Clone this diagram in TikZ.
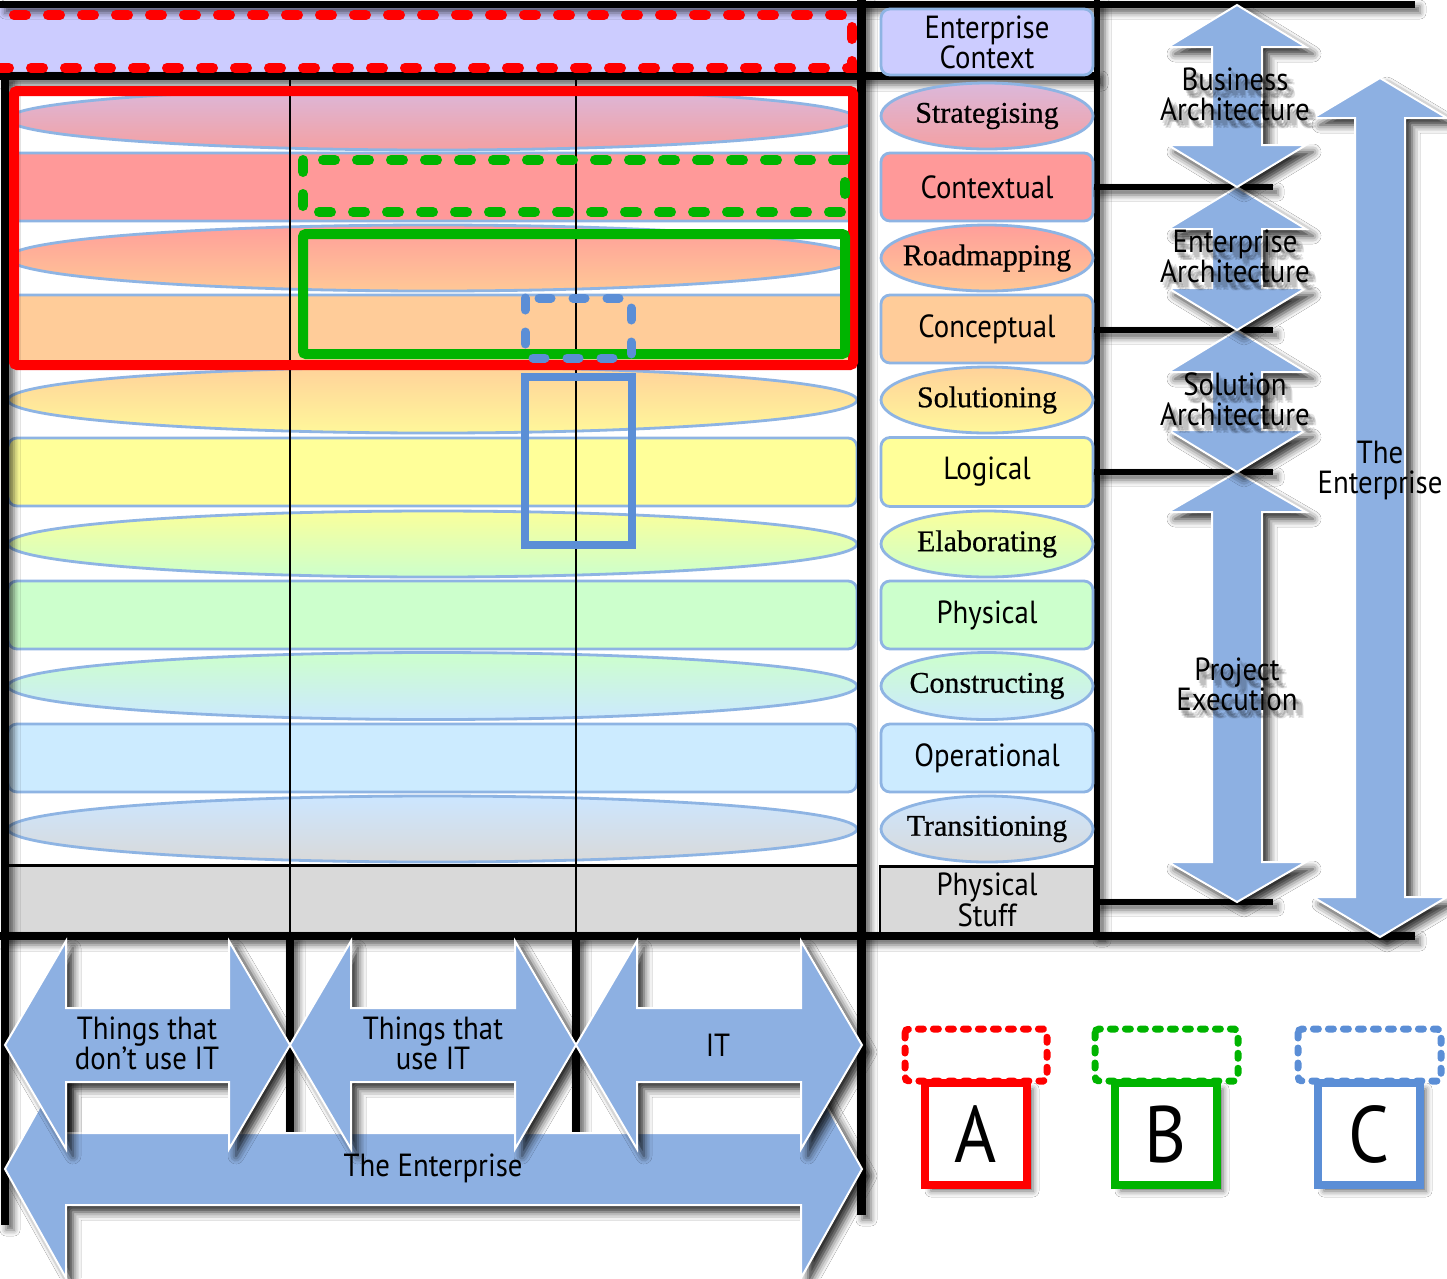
\documentclass[tikz,border=0pt]{standalone}
\usepackage{fontspec}
\setmainfont{Liberation Serif}
\newfontfamily\ser[FakeBold=0.6]{Liberation Serif}
\newfontfamily\cnd[FakeStretch=0.9]{PT Sans}
\usetikzlibrary{shapes.geometric,shadows.blur}

\definecolor{lav}{HTML}{CCCCFF}
\definecolor{edge}{HTML}{8EB4E3}
\definecolor{arrowblue}{HTML}{8DB0E2}
\definecolor{ctx}{HTML}{FF9999}
\definecolor{cpt}{HTML}{FFCC99}
\definecolor{lgc}{HTML}{FFFF99}
\definecolor{phy}{HTML}{CCFFCC}
\definecolor{opr}{HTML}{CCEBFF}
\definecolor{stuff}{HTML}{D9D9D9}
\definecolor{strA}{HTML}{DBB8DB}\definecolor{strB}{HTML}{F4A0A2}
\definecolor{rdA}{HTML}{FF9E9A}\definecolor{rdB}{HTML}{FFC896}
\definecolor{solA}{HTML}{FFD29A}\definecolor{solB}{HTML}{FFF79A}
\definecolor{elaA}{HTML}{FAFF9B}\definecolor{elaB}{HTML}{CCFFCC}
\definecolor{conA}{HTML}{CCFFCC}\definecolor{conB}{HTML}{CCE9FF}
\definecolor{trA}{HTML}{CCE6FF}\definecolor{trB}{HTML}{D9D9D9}
\definecolor{mred}{HTML}{FF0000}
\definecolor{mgreen}{HTML}{00B400}
\definecolor{mblue}{HTML}{5B8ED6}

% vertical double arrow: centre x, top tip, bottom tip, head length, head half width, shaft half width
\newcommand\vdarr[6]{%
  \path[bigarrow] (#1,#2) -- (#1+#5,#2+#4) -- (#1+#6,#2+#4) -- (#1+#6,#3-#4) -- (#1+#5,#3-#4)
    -- (#1,#3) -- (#1-#5,#3-#4) -- (#1-#6,#3-#4) -- (#1-#6,#2+#4) -- (#1-#5,#2+#4) -- cycle;}
% horizontal double arrow: centre y, left tip, right tip, head length, head half width, shaft half width
\newcommand\hdarr[6]{%
  \path[bigarrow] (#2,#1) -- (#2+#4,#1-#5) -- (#2+#4,#1-#6) -- (#3-#4,#1-#6) -- (#3-#4,#1-#5)
    -- (#3,#1) -- (#3-#4,#1+#5) -- (#3-#4,#1+#6) -- (#2+#4,#1+#6) -- (#2+#4,#1+#5) -- cycle;}
% arrow caption with a soft dark shadow: name, x, y, text
\newcommand\shtext[4]{%
  \foreach \dx/\dy [count=\k] in {2/3,4/5,6/7,7/5,5/8,8/8,3/6}
    \node[arrowtext, opacity=0.11] (#1-s\k) at (#2+\dx,#3+\dy) {#4};
  \node[arrowtext] (#1) at (#2,#3) {#4};}

\tikzset{
  phase/.style={ellipse, draw=edge, line width=2.8pt, inner sep=-30pt,
    font=\ser\fontsize{30}{30}\selectfont},
  layer/.style={rectangle, rounded corners=9pt, draw=edge, line width=2.8pt, inner sep=0pt,
    align=center, font=\cnd\fontsize{32}{29}\selectfont},
  bar/.style={fill=black, blur shadow={shadow xshift=5pt, shadow yshift=-5pt,
    shadow blur radius=6pt, shadow opacity=60}},
  bigarrow/.style={fill=arrowblue, draw=white, line width=2pt,
    blur shadow={shadow xshift=7pt, shadow yshift=-7pt, shadow blur radius=8pt, shadow opacity=85}},
  arrowtext/.style={inner sep=0pt, align=center, font=\cnd\fontsize{32}{30}\selectfont},
  marker/.style={line width=10pt, rounded corners=3pt},
  dashmarker/.style={line width=10pt, line cap=round, dash pattern=on 12pt off 22pt},
  keydash/.style={line width=7pt, line cap=round, dash pattern=on 5pt off 10pt, rounded corners=4pt},
  keybox/.style={rectangle, fill=white, line width=8pt, minimum width=102pt, minimum height=102pt,
    inner sep=0pt, font=\cnd\fontsize{80}{80}\selectfont,
    blur shadow={shadow xshift=6pt, shadow yshift=-6pt, shadow blur radius=6pt, shadow opacity=60}},
}

\begin{document}
\begin{tikzpicture}[x=1pt,y=-1pt]
\useasboundingbox (0,0) rectangle (1447,1278);
\fill[white] (0,0) rectangle (1447,1278);

% ---- left grid: context band, phases and layers ----
\fill[lav] (0,8) rectangle (858,74);
\fill[white] (8,76) rectangle (858,866);

\foreach \nm/\yc/\hh/\ca/\cb in {gStrat/119/62/strA/strB, gRoad/258/66/rdA/rdB,
    gSol/400/66/solA/solB, gEla/544/66/elaA/elaB, gCon/686/67/conA/conB, gTr/829/66/trA/trB}
  \node[phase, minimum width=849pt, minimum height=\hh pt, top color=\ca, bottom color=\cb]
    (\nm) at (432.5,\yc) {};
\foreach \nm/\yc/\cc in {gCtx/187/ctx, gCpt/329/cpt, gLog/472/lgc, gPhy/615/phy, gOp/758/opr}
  \node[layer, minimum width=849pt, minimum height=68pt, fill=\cc] (\nm) at (432.5,\yc) {};

\fill[stuff] (8,866) rectangle (858,933);
\draw[line width=3pt] (8,865) -- (858,865);

% column separators inside the grid
\draw[line width=1.5pt] (290,76) -- (290,936);
\draw[line width=1.5pt] (576,76) -- (576,936);

% ---- frame bars ----
\path[bar] (0,1) rectangle (1415,8);
\path[bar] (0,72) rectangle (1097,80);
\path[bar] (0,932) rectangle (1415,940);
\path[bar] (1,76) rectangle (9,1225);
\path[bar] (286,936) rectangle (294,1135);
\path[bar] (572,936) rectangle (580,1135);
\path[bar] (857,0) rectangle (866,1215);
\path[bar] (1094,0) rectangle (1100,936);

% ---- right column labels ----
\node[layer, fill=lav, minimum width=212pt, minimum height=66pt] (lEC) at (987,42) {Enterprise\\Context};
\node[phase, minimum width=212pt, minimum height=66pt, top color=strA, bottom color=strB] (lStrat) at (987,116) {Strategising};
\node[layer, fill=ctx, minimum width=212pt, minimum height=68pt] (lCtx) at (987,187) {Contextual};
\node[phase, minimum width=212pt, minimum height=66pt, top color=rdA, bottom color=rdB] (lRoad) at (987,258) {Roadmapping};
\node[layer, fill=cpt, minimum width=212pt, minimum height=68pt] (lCpt) at (987,329) {Conceptual};
\node[phase, minimum width=212pt, minimum height=66pt, top color=solA, bottom color=solB] (lSol) at (987,400) {Solutioning};
\node[layer, fill=lgc, minimum width=212pt, minimum height=69pt] (lLog) at (987,472) {Logical};
\node[phase, minimum width=212pt, minimum height=66pt, top color=elaA, bottom color=elaB] (lEla) at (987,544) {Elaborating};
\node[layer, fill=phy, minimum width=212pt, minimum height=68pt] (lPhy) at (987,615) {Physical};
\node[phase, minimum width=212pt, minimum height=67pt, top color=conA, bottom color=conB] (lCon) at (987,686) {Constructing};
\node[layer, fill=opr, minimum width=212pt, minimum height=68pt] (lOp) at (987,758) {Operational};
\node[phase, minimum width=212pt, minimum height=66pt, top color=trA, bottom color=trB] (lTr) at (987,829) {Transitioning};
\node[rectangle, draw=black, line width=2.5pt, fill=stuff, minimum width=214pt, minimum height=67pt,
  inner sep=0pt, align=center, font=\cnd\fontsize{32}{29}\selectfont] (lStuff) at (987,900) {Physical\\Stuff};

% dividers from the layer labels to the architecture arrows
\coordinate (dCtx) at (1273,187);
\coordinate (dCpt) at (1273,330);
\coordinate (dLog) at (1273,472);
\coordinate (dStuff) at (1273,902);
\path[bar] (lCtx.east |- 0,184) rectangle (dCtx |- 0,190);
\path[bar] (lCpt.east |- 0,327) rectangle (dCpt |- 0,333);
\path[bar] (lLog.east |- 0,469) rectangle (dLog |- 0,475);
\path[bar] (lStuff.east |- 0,899) rectangle (dStuff |- 0,905);

% ---- scope markers ----
\draw[mred, dashmarker] (-20,15) -- (852,15) -- (852,68) -- (-20,68);
\draw[mred, marker] (14,91) rectangle (853,365);
\draw[mgreen, dashmarker] (303,160) rectangle (845,212);
\draw[mgreen, marker] (303,234) rectangle (845,354);
\draw[mblue, dashmarker, line width=9pt] (525,298) rectangle (631,358);
\draw[mblue, line width=8pt] (525,377) rectangle (632,545);

% ---- architecture arrows ----
\vdarr{1380}{78}{937}{40}{67}{25}
\vdarr{1237}{472}{902}{40}{69}{25}
\vdarr{1237}{330}{472}{42}{69}{25}
\vdarr{1237}{187}{330}{42}{69}{25}
\vdarr{1237}{5}{187}{42}{69}{25}

\shtext{tBA}{1235}{94}{Business\\Architecture}
\shtext{tEA}{1235}{256}{Enterprise\\Architecture}
\shtext{tSA}{1235}{399}{Solution\\Architecture}
\shtext{tPE}{1237}{684}{Project\\Execution}
\node[arrowtext] (tTE) at (1380,470) {The\\Enterprise};

% ---- scope arrows below the grid ----
\hdarr{1169}{5}{862}{61}{109}{36}
\hdarr{1045}{5}{290}{61}{104}{37}
\hdarr{1045}{290}{576}{61}{104}{37}
\hdarr{1045}{576}{862}{61}{104}{37}

\node[arrowtext] (tNo) at (147,1043) {Things that\\don’t use IT};
\node[arrowtext] (tUse) at (433,1043) {Things that\\use IT};
\node[arrowtext] (tIT) at (718,1045) {IT};
\node[arrowtext] (tEnt) at (433,1168) {The Enterprise};

% ---- key ----
\draw[mred, keydash] (905,1029) rectangle (1047,1081);
\draw[mgreen, keydash] (1095,1029) rectangle (1238,1081);
\draw[mblue, keydash] (1298,1029) rectangle (1441,1081);
\node[keybox, draw=mred] (kA) at (976,1134) {A};
\node[keybox, draw=mgreen] (kB) at (1166,1134) {B};
\node[keybox, draw=mblue] (kC) at (1369,1134) {C};
\end{tikzpicture}
\end{document}
